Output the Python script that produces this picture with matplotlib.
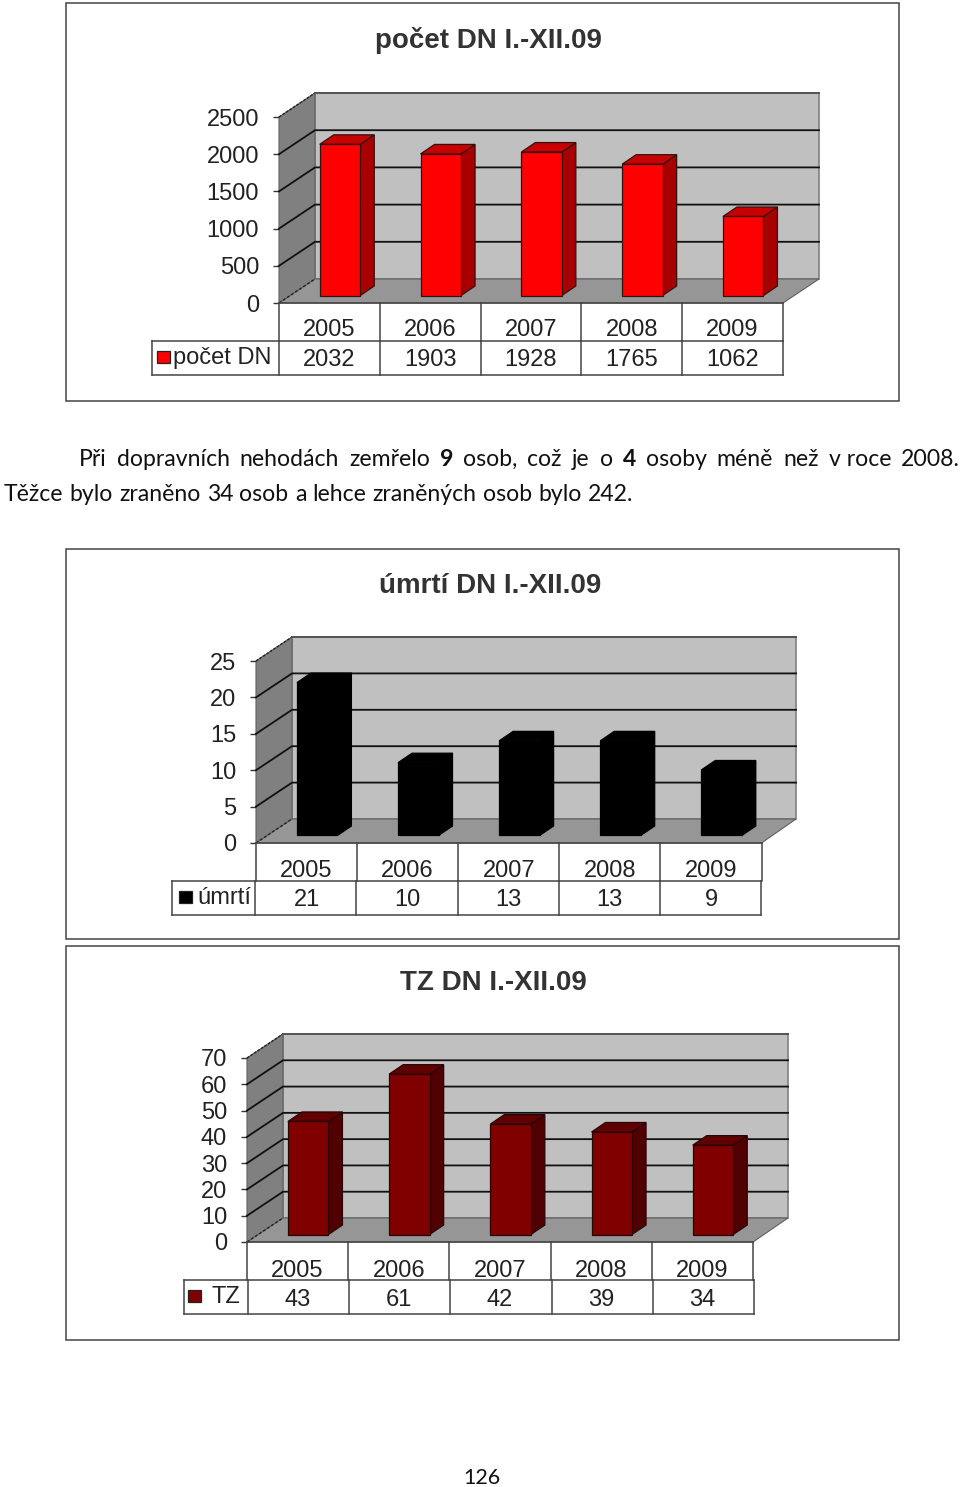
import matplotlib
matplotlib.use("Agg")
import matplotlib.pyplot as plt
from matplotlib.patches import Polygon, Rectangle

W, H = 960, 1487

years = ["2005", "2006", "2007", "2008", "2009"]
pocet_dn = [2032, 1903, 1928, 1765, 1062]
umrti = [21, 10, 13, 13, 9]
tz = [43, 61, 42, 39, 34]

ticks_pocet = [0, 500, 1000, 1500, 2000, 2500]
ticks_umrti = [0, 5, 10, 15, 20, 25]
ticks_tz = [0, 10, 20, 30, 40, 50, 60, 70]

line1 = [("Při", 0), ("dopravních", 0), ("nehodách", 0), ("zemřelo", 0), ("9", 1), ("osob,", 0), ("což", 0),
         ("je", 0), ("o", 0), ("4", 1), ("osoby", 0), ("méně", 0), ("než", 0), ("v roce", 0), ("2008.", 0)]
line2 = "Těžce bylo zraněno 34 osob a lehce zraněných osob bylo 242."

CHART_FONT = "Liberation Sans"
PAGE_FONT = "Lato"
INK = "#222222"
DEPTH = (36, 24)
BAR_DEPTH = (14, 9.5)

fig = plt.figure(figsize=(W / 100, H / 100), dpi=100, facecolor="white")

# page layer in pixel coordinates
page = fig.add_axes([0, 0, 1, 1])
page.set_xlim(0, W)
page.set_ylim(H, 0)
page.axis("off")


def chart(frame, left, cat_w, back_dx, y0, y_top, ticks, values, title, title_xy, legend, legend_x, swatch_x, text_x,
          row_shift, year_off, val_off, front, side, top, edge):
    # frame round the chart
    page.add_patch(Rectangle((frame[0], frame[1]), frame[2] - frame[0], frame[3] - frame[1],
                             fc="white", ec="#444444", lw=1.1))
    page.text(title_xy[0], title_xy[1], title, family=CHART_FONT, weight="bold", fontsize=20,
              color="#333333", ha="center", va="center")

    width = cat_w * 5
    ax = fig.add_axes([left / W, 1 - y0 / H, width / W, (y0 - y_top) / H])
    ax.set_xlim(0, 5)
    ax.set_ylim(0, ticks[-1])
    ax.patch.set_visible(False)
    for s in ax.spines.values():
        s.set_visible(False)

    px = 5 / width
    py = ticks[-1] / (y0 - y_top)
    dx, dy = DEPTH[0] * px, DEPTH[1] * py
    xr = 5 + back_dx * px
    top_v = ticks[-1]

    # walls and floor
    ax.add_patch(Polygon([(dx, dy), (xr, dy), (xr, top_v + dy), (dx, top_v + dy)],
                         fc="#c0c0c0", ec="#808080", lw=1.2, clip_on=False, zorder=1))
    ax.add_patch(Polygon([(0, 0), (dx, dy), (dx, top_v + dy), (0, top_v)],
                         fc="#808080", ec="#606060", lw=0.8, clip_on=False, zorder=1))
    ax.add_patch(Polygon([(0, 0), (5, 0), (xr, dy), (dx, dy)],
                         fc="#969696", ec="#606060", lw=0.8, clip_on=False, zorder=1))
    ax.plot([0, dx], [top_v, top_v + dy], color="#222222", lw=1, ls=(0, (2, 1)), clip_on=False, zorder=2)
    ax.plot([dx, xr], [top_v + dy, top_v + dy], color="#555555", lw=1.4, clip_on=False, zorder=2)

    # gridlines
    for t in ticks[:-1]:
        if t == 0:
            ax.plot([0, dx], [0, dy], color="#222222", lw=1, ls=(0, (2, 1.5)), clip_on=False, zorder=2)
            continue
        ax.plot([0, dx, xr], [t, t + dy, t + dy], color="#111111", lw=1.3, clip_on=False, zorder=2)

    # bars
    off_x = 10.6 * px
    off_y = 7.5 * py
    bw = 40.5 * px
    bx, by = BAR_DEPTH[0] * px, BAR_DEPTH[1] * py
    for i, v in enumerate(values):
        c = i + 0.5 + off_x
        l, r = c - bw / 2, c + bw / 2
        b, t = off_y, off_y + v
        ax.add_patch(Polygon([(r, b), (r + bx, b + by), (r + bx, t + by), (r, t)], fc=side, ec=edge, lw=0.9,
                             clip_on=False, zorder=3))
        ax.add_patch(Polygon([(l, t), (r, t), (r + bx, t + by), (l + bx, t + by)], fc=top, ec=edge, lw=0.9,
                             clip_on=False, zorder=3))
    ax.bar([i + 0.5 + off_x for i in range(5)], values, bw, bottom=off_y, color=front, edgecolor=edge, lw=0.9,
           clip_on=False, zorder=4)

    # value axis
    ax.set_xticks([])
    ax.set_yticks(ticks)
    ax.set_yticklabels([str(t) for t in ticks], family=CHART_FONT, fontsize=17, color=INK)
    ax.tick_params(axis="y", length=4.3, width=1, color="#333333", pad=10)

    # data table below the plot
    row1, row2 = -38 * py, -72 * py
    line = dict(color="#444444", lw=1.1, clip_on=False, zorder=5)
    shift = row_shift * px
    ax.plot([0, 5], [0, 0], **line)
    ax.plot([(legend_x - left) * px + shift, 5 + shift], [row1, row1], **line)
    ax.plot([(legend_x - left) * px + shift, 5 + shift], [row2, row2], **line)
    ax.plot([(legend_x - left) * px + shift] * 2, [row1, row2], **line)
    for i in range(6):
        ax.plot([i, i], [0, row1], **line)
        ax.plot([i + shift, i + shift], [row1, row2], **line)
    for i in range(5):
        ax.text(i + 0.5, -year_off * py, years[i], family=CHART_FONT, fontsize=17, color=INK,
                ha="center", va="center", clip_on=False)
        ax.text(i + 0.5, -val_off * py, str(values[i]), family=CHART_FONT, fontsize=17, color=INK,
                ha="center", va="center", clip_on=False)

    # legend cell
    sy = y0 + 48
    page.add_patch(Rectangle((swatch_x, sy), 13, 12, fc=front, ec="#222222", lw=0.9, zorder=6))
    page.text(text_x, y0 + 55, legend, family=CHART_FONT, fontsize=17, color=INK, ha="left", va="center", zorder=6)


def justified(words, x0, x1, y, size):
    # place words so the line fills x0..x1, like the justified text of the page
    items = [page.text(0, y, w, family=PAGE_FONT, fontsize=size, color="#111111", va="baseline",
                       weight="bold" if b else "normal") for w, b in words]
    r = fig.canvas.get_renderer()
    widths = [t.get_window_extent(r).width for t in items]
    gap = (x1 - x0 - sum(widths)) / (len(items) - 1)
    x = x0
    for t, w in zip(items, widths):
        t.set_x(x)
        x += w + gap


chart((66, 3, 899, 401), 279, 100.8, 36, 303, 117, ticks_pocet, pocet_dn, "počet DN I.-XII.09", (488, 41), "počet DN",
      152, 157, 173, 0, 27, 57, "#ff0000", "#a80000", "#c80000", "#331111")
chart((66, 549, 899, 939), 256, 101.1, 34.5, 843, 661, ticks_umrti, umrti, "úmrtí DN I.-XII.09", (490, 586), "úmrtí",
      173, 179, 197, -0.7, 28.5, 57, "#000000", "#000000", "#000000", "#000000")
chart((66, 946, 899, 1340), 247, 101.2, 35, 1242, 1058, ticks_tz, tz, "TZ DN I.-XII.09", (493, 983), "TZ",
      183, 188, 211, 1, 29, 57.5, "#800000", "#500000", "#600000", "#2a0505")

justified(line1, 79, 960, 466, 16.6)
justified([(w, 0) for w in line2.split(" ")], 4, 633, 501, 16.6)
page.text(482, 1484, "126", family=PAGE_FONT, fontsize=15.5, color="#111111", ha="center", va="baseline")

fig.savefig("out.png", dpi=100)
